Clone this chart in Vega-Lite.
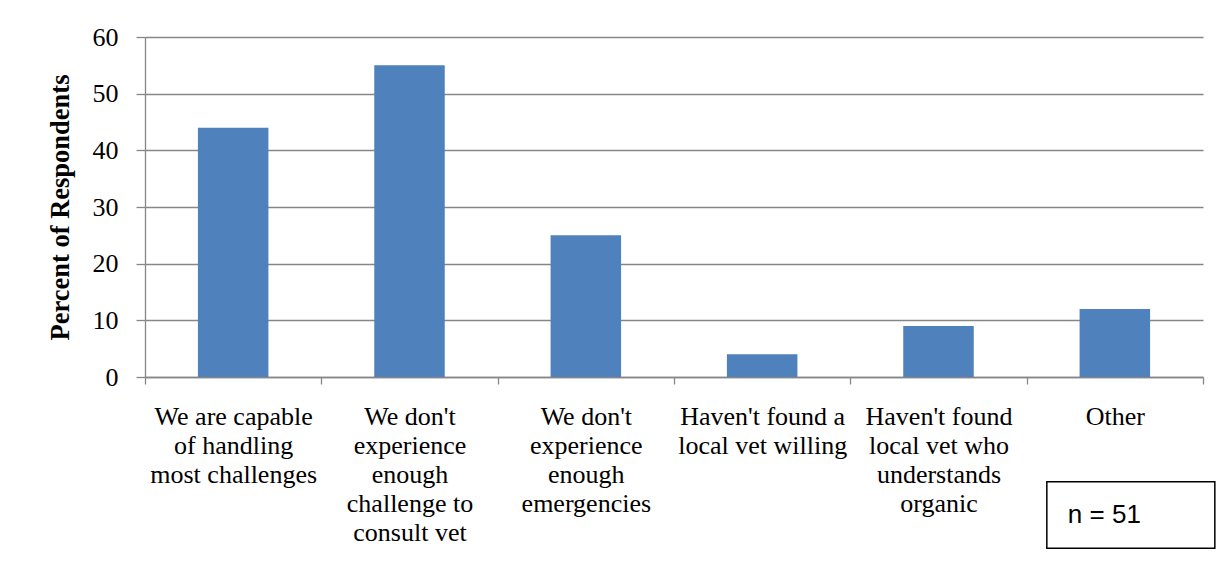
{
  "$schema": "https://vega.github.io/schema/vega-lite/v6.json",
  "width": 1058,
  "height": 340,
  "autosize": {"type": "none"},
  "padding": {"left": 145, "top": 37, "right": 28, "bottom": 202},
  "background": "white",
  "config": {"view": {"stroke": null}},
  "datasets": {
    "bars": [
      {"reason": "We are capable\nof handling\nmost challenges", "percent": 44},
      {"reason": "We don't\nexperience\nenough\nchallenge to\nconsult vet", "percent": 55},
      {"reason": "We don't\nexperience\nenough\nemergencies", "percent": 25},
      {"reason": "Haven't found a\nlocal vet willing", "percent": 4},
      {"reason": "Haven't found\nlocal vet who\nunderstands\norganic", "percent": 9},
      {"reason": "Other", "percent": 12}
    ],
    "note": [
      {"reason": "Other", "top": -18.5, "bottom": -30.2, "mid": -24.4, "label": "n = 51"}
    ]
  },
  "layer": [
    {
      "data": {"name": "bars"},
      "mark": {"type": "bar", "color": "#4F81BD", "width": 70.5},
      "encoding": {
        "x": {
          "field": "reason",
          "type": "nominal",
          "sort": null,
          "scale": {
            "domain": [
              "We are capable\nof handling\nmost challenges",
              "We don't\nexperience\nenough\nchallenge to\nconsult vet",
              "We don't\nexperience\nenough\nemergencies",
              "Haven't found a\nlocal vet willing",
              "Haven't found\nlocal vet who\nunderstands\norganic",
              "Other"
            ],
            "paddingInner": 0,
            "paddingOuter": 0
          },
          "axis": {
            "title": null,
            "labelAngle": 0,
            "labelExpr": "split(datum.label, '\\n')",
            "labelFont": "Liberation Serif",
            "labelFontSize": 26,
            "labelColor": "black",
            "labelLineHeight": 29,
            "labelPadding": 19,
            "labelLimit": 0,
            "tickBand": "extent",
            "tickSize": 7,
            "tickColor": "#868686",
            "domainColor": "#868686",
            "tickWidth": 1.3,
            "domainWidth": 1.3
          }
        },
        "y": {
          "field": "percent",
          "type": "quantitative",
          "scale": {"domain": [0, 60], "nice": false},
          "axis": {
            "title": "Percent of Respondents",
            "titleFont": "Liberation Serif",
            "titleFontSize": 26.5,
            "titleFontWeight": "bold",
            "titleColor": "black",
            "titlePadding": 18,
            "values": [0, 10, 20, 30, 40, 50, 60],
            "labelFont": "Liberation Serif",
            "labelFontSize": 26,
            "labelColor": "black",
            "labelPadding": 18,
            "tickSize": 9,
            "tickColor": "#868686",
            "domainColor": "#868686",
            "gridColor": "#868686",
            "tickWidth": 1.3,
            "domainWidth": 1.3,
            "gridWidth": 1.3,
            "grid": true
          }
        }
      }
    },
    {
      "data": {"name": "note"},
      "mark": {"type": "bar", "width": 168, "xOffset": 16, "fill": "white", "stroke": "black", "strokeWidth": 1.5, "clip": false},
      "encoding": {
        "x": {"field": "reason", "type": "nominal"},
        "y": {"field": "top", "type": "quantitative"},
        "y2": {"field": "bottom"}
      }
    },
    {
      "data": {"name": "note"},
      "mark": {"type": "text", "align": "left", "baseline": "middle", "xOffset": -47, "font": "Liberation Sans", "fontSize": 26, "color": "black", "clip": false},
      "encoding": {
        "x": {"field": "reason", "type": "nominal"},
        "y": {"field": "mid", "type": "quantitative"},
        "text": {"field": "label"}
      }
    }
  ]
}
